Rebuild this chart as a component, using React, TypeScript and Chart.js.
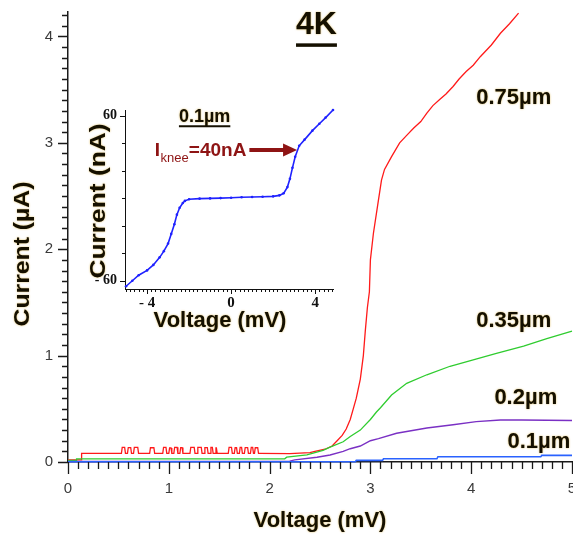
import React, { useEffect, useRef } from 'react';
import { Chart, registerables } from 'chart.js';

Chart.register(...registerables);

const W = 573;
const H = 537;
const SANS = "'Liberation Sans', Arial, sans-serif";
const SERIF = "'Liberation Serif', 'Times New Roman', serif";

// ---------- main chart data (Voltage mV, Current µA) ----------
const xTicksMain = [0, 1, 2, 3, 4, 5];
const yTicksMain = [0, 1, 2, 3, 4];

// 0.75 µm (red): low-bias part, switching noise, and the high-bias branch
const redLowV = [0, 0.13, 0.135, 0.53];
const redLowI = [0.02, 0.02, 0.082, 0.082];
const redSpikeStart = [0.53, 0.59, 0.65, 0.81, 0.94, 1.0, 1.05, 1.11, 1.21, 1.28, 1.35, 1.41, 1.46, 1.59, 1.65, 1.7, 1.75, 1.81, 1.85];
const redSpikeEnd = [0.57, 0.63, 0.7, 0.86, 0.98, 1.03, 1.09, 1.14, 1.26, 1.33, 1.39, 1.44, 1.48, 1.63, 1.68, 1.73, 1.79, 1.84, 1.89];
const redSpikeTop = [0.138, 0.136, 0.138, 0.134, 0.138, 0.132, 0.138, 0.136, 0.138, 0.138, 0.136, 0.138, 0.132, 0.138, 0.134, 0.138, 0.136, 0.138, 0.134];
const redBase = 0.082;
const redHighV = [1.9, 2.2, 2.4, 2.45, 2.55, 2.62, 2.67, 2.72, 2.76, 2.8, 2.83, 2.86, 2.9, 2.93, 2.95, 2.97, 2.99, 3.0, 3.03, 3.07, 3.11, 3.14, 3.21, 3.29, 3.36, 3.43, 3.5, 3.56, 3.62, 3.69, 3.75, 3.82, 3.88, 3.95, 4.02, 4.09, 4.2, 4.29, 4.38, 4.47];
const redHighI = [0.082, 0.078, 0.088, 0.1, 0.12, 0.15, 0.2, 0.25, 0.31, 0.4, 0.5, 0.6, 0.78, 1.0, 1.24, 1.45, 1.6, 1.9, 2.15, 2.4, 2.65, 2.75, 2.87, 3.0, 3.07, 3.14, 3.2, 3.28, 3.35, 3.41, 3.46, 3.53, 3.6, 3.67, 3.73, 3.81, 3.92, 4.03, 4.12, 4.22];

// 0.35 µm (green)
const greenV = [0, 0.08, 0.085, 2.15, 2.17, 2.37, 2.53, 2.6, 2.73, 2.8, 2.9, 2.93, 3.0, 3.06, 3.1, 3.21, 3.36, 3.56, 3.79, 4.02, 4.25, 4.52, 4.75, 5.0];
const greenI = [0.015, 0.015, 0.03, 0.03, 0.045, 0.066, 0.11, 0.14, 0.19, 0.24, 0.3, 0.33, 0.4, 0.47, 0.51, 0.63, 0.74, 0.82, 0.9, 0.96, 1.02, 1.09, 1.16, 1.23];

// 0.2 µm (purple)
const purpleV = [0, 2.2, 2.25, 2.47, 2.6, 2.73, 2.8, 2.9, 3.0, 3.08, 3.26, 3.56, 3.82, 4.05, 4.29, 4.5, 5.0];
const purpleI = [0.005, 0.008, 0.02, 0.045, 0.066, 0.1, 0.125, 0.15, 0.2, 0.22, 0.27, 0.32, 0.35, 0.38, 0.395, 0.395, 0.39];

// 0.1 µm (blue)
const blueV = [0, 2.85, 2.86, 3.12, 3.13, 3.66, 3.67, 4.69, 4.7, 5.0];
const blueI = [0.003, 0.003, 0.015, 0.015, 0.03, 0.03, 0.05, 0.05, 0.062, 0.062];

// curve labels [text, V at left edge, I at text middle]
const seriesLabels = ['0.75µm', '0.35µm', '0.2µm', '0.1µm'];
const seriesLabelV = [4.05, 4.05, 4.23, 4.36];
const seriesLabelI = [3.42, 1.33, 0.6, 0.19];

// ---------- inset data (Voltage mV, Current nA), 0.1 µm ----------
const insetV = [-5.0, -4.7, -4.4, -4.0, -3.7, -3.4, -3.2, -3.0, -2.85, -2.7, -2.58, -2.45, -2.3, -2.2, -2.0, -1.5, -1.0, -0.5, 0, 0.5, 1.0, 1.5, 2.0, 2.3, 2.5, 2.68, 2.8, 2.92, 3.05, 3.24, 3.5, 3.87, 4.2, 4.5, 4.85];
const insetI = [-64, -60, -56, -52.5, -48.5, -43, -38.5, -33, -26, -19, -12, -7, -3.5, -2, -0.8, -0.4, -0.2, 0, 0.3, 0.6, 0.8, 1.0, 1.3, 2, 3.5, 8, 14, 22, 30, 38, 42.5, 49, 54, 58.5, 64];
const insetXTicks = [-4, 0, 4];
const insetYTicks = [-60, 60];
const kneeCurrent = 40;

const toPts = (xs: number[], ys: number[]) => xs.map((x, i) => ({ x, y: ys[i] }));

function buildRed() {
  const pts = toPts(redLowV, redLowI);
  for (let i = 0; i < redSpikeStart.length; i++) {
    const s = redSpikeStart[i];
    const e = redSpikeEnd[i];
    pts.push({ x: s, y: redBase });
    pts.push({ x: s + 0.008, y: redSpikeTop[i] });
    pts.push({ x: e - 0.008, y: redSpikeTop[i] });
    pts.push({ x: e, y: redBase });
  }
  return pts.concat(toPts(redHighV, redHighI));
}

function haloText(ctx: CanvasRenderingContext2D) {
  ctx.shadowColor = 'rgba(205,150,0,0.65)';
  ctx.shadowBlur = 2;
}

// draw rotated text stretched along its length to a given extent
function verticalTitle(ctx: CanvasRenderingContext2D, text: string, cx: number, cy: number, size: number, length: number) {
  ctx.save();
  ctx.font = `bold ${size}px ${SANS}`;
  const w = ctx.measureText(text).width;
  ctx.translate(cx, cy);
  ctx.rotate(-Math.PI / 2);
  ctx.scale(length / w, 1);
  ctx.textAlign = 'center';
  ctx.textBaseline = 'middle';
  ctx.fillText(text, 0, 0);
  ctx.restore();
}

const mainDecor = {
  id: 'mainDecor',
  afterDraw(chart: any) {
    const ctx: CanvasRenderingContext2D = chart.ctx;
    const xs = chart.scales.x;
    const ys = chart.scales.y;
    const area = chart.chartArea;
    ctx.save();
    // ticks (major + minor)
    ctx.strokeStyle = '#1a1a1a';
    ctx.lineWidth = 1.3;
    ctx.beginPath();
    for (let k = 0; k <= 50; k++) {
      const v = k / 10;
      const px = Math.round(xs.getPixelForValue(v)) + 0.5;
      const len = k % 10 === 0 ? 12 : 7;
      ctx.moveTo(px, area.bottom);
      ctx.lineTo(px, area.bottom + len);
    }
    for (let k = 0; k <= 42; k++) {
      const v = k / 10;
      const py = Math.round(ys.getPixelForValue(v)) + 0.5;
      const len = k % 10 === 0 ? 10 : 6;
      ctx.moveTo(area.left, py);
      ctx.lineTo(area.left - len, py);
    }
    ctx.stroke();

    // axis titles
    ctx.fillStyle = '#151000';
    haloText(ctx);
    ctx.font = `bold 22px ${SANS}`;
    ctx.textAlign = 'center';
    ctx.textBaseline = 'alphabetic';
    ctx.fillText('Voltage (mV)', (area.left + area.right) / 2, 527);
    verticalTitle(ctx, 'Current (µA)', 23, 254, 22, 145);

    // title 4K
    ctx.font = `bold 32px ${SANS}`;
    ctx.textAlign = 'center';
    ctx.textBaseline = 'alphabetic';
    const tx = xs.getPixelForValue(2.465);
    const ty = ys.getPixelForValue(4.02);
    ctx.fillText('4K', tx, ty);
    const tw = ctx.measureText('4K').width;
    ctx.shadowBlur = 0;
    ctx.fillRect(tx - tw / 2, ty + 9, tw, 3.5);
    haloText(ctx);

    // series labels
    ctx.font = `bold 22px ${SANS}`;
    ctx.textAlign = 'left';
    ctx.textBaseline = 'middle';
    for (let i = 0; i < seriesLabels.length; i++) {
      ctx.fillText(seriesLabels[i], xs.getPixelForValue(seriesLabelV[i]), ys.getPixelForValue(seriesLabelI[i]));
    }
    ctx.restore();
  },
};

const insetDecor = {
  id: 'insetDecor',
  afterDraw(chart: any) {
    const ctx: CanvasRenderingContext2D = chart.ctx;
    const xs = chart.scales.x;
    const ys = chart.scales.y;
    const area = chart.chartArea;
    ctx.save();
    ctx.strokeStyle = '#111';
    ctx.lineWidth = 1;
    ctx.beginPath();
    for (let k = -25; k <= 24; k++) {
      const v = k / 5;
      const px = Math.round(xs.getPixelForValue(v)) + 0.5;
      const len = k % 20 === 0 ? 5 : 3;
      ctx.moveTo(px, area.bottom);
      ctx.lineTo(px, area.bottom + len);
    }
    for (let k = -60; k <= 60; k += 20) {
      const py = Math.round(ys.getPixelForValue(k)) + 0.5;
      ctx.moveTo(area.left, py);
      ctx.lineTo(area.left - (Math.abs(k) === 60 ? 5 : 3), py);
    }
    ctx.stroke();

    // axis titles
    ctx.fillStyle = '#151000';
    haloText(ctx);
    ctx.font = `bold 22px ${SANS}`;
    ctx.textAlign = 'center';
    ctx.textBaseline = 'alphabetic';
    ctx.fillText('Voltage (mV)', area.left + 95, area.bottom + 38);
    verticalTitle(ctx, 'Current (nA)', area.left - 26, 201, 22, 155);

    // 0.1µm underlined title
    ctx.font = `bold 18px ${SANS}`;
    ctx.textAlign = 'center';
    ctx.textBaseline = 'alphabetic';
    const hx = xs.getPixelForValue(-1.26);
    const hy = ys.getPixelForValue(55.1);
    ctx.fillText('0.1µm', hx, hy);
    const hw = ctx.measureText('0.1µm').width;
    ctx.shadowBlur = 0;
    ctx.fillRect(hx - hw / 2, hy + 3, hw, 2);

    // I_knee = 40nA
    const red = '#8e1414';
    ctx.fillStyle = red;
    ctx.textAlign = 'left';
    let x0 = xs.getPixelForValue(-3.63);
    const by = ys.getPixelForValue(30.9);
    ctx.font = `bold 19px ${SANS}`;
    ctx.fillText('I', x0, by);
    x0 += ctx.measureText('I').width + 0.5;
    ctx.font = `13px ${SANS}`;
    ctx.fillText('knee', x0, by + 6.5);
    x0 += ctx.measureText('knee').width;
    ctx.font = `bold 19px ${SANS}`;
    ctx.fillText(`=${kneeCurrent}nA`, x0, by);

    // arrow to the knee
    const ay = ys.getPixelForValue(35);
    const ax0 = xs.getPixelForValue(0.87);
    const ax1 = xs.getPixelForValue(3.14);
    ctx.strokeStyle = red;
    ctx.lineWidth = 4;
    ctx.beginPath();
    ctx.moveTo(ax0, ay);
    ctx.lineTo(ax1 - 12, ay);
    ctx.stroke();
    ctx.beginPath();
    ctx.moveTo(ax1 - 14, ay - 6.5);
    ctx.lineTo(ax1, ay);
    ctx.lineTo(ax1 - 14, ay + 6.5);
    ctx.closePath();
    ctx.fill();
    ctx.restore();
  },
};

export default function App() {
  const mainRef = useRef<HTMLCanvasElement>(null);
  const insetRef = useRef<HTMLCanvasElement>(null);

  useEffect(() => {
    const mainChart = new Chart(mainRef.current as HTMLCanvasElement, {
      type: 'line',
      data: {
        datasets: [
          { data: toPts(blueV, blueI), borderColor: '#2a62ff', borderWidth: 1.6 },
          { data: toPts(purpleV, purpleI), borderColor: '#7a30c4', borderWidth: 1.4 },
          { data: toPts(greenV, greenI), borderColor: '#2fcc2f', borderWidth: 1.3 },
          { data: buildRed(), borderColor: '#ff1a1a', borderWidth: 1.3 },
        ] as any,
      },
      options: {
        animation: false,
        responsive: false,
        maintainAspectRatio: false,
        layout: { padding: { top: 12, right: 1, left: 0, bottom: 0 } },
        elements: { point: { radius: 0 }, line: { tension: 0 } },
        plugins: { legend: { display: false }, tooltip: { enabled: false } },
        datasets: { line: { clip: 4 } } as any,
        scales: {
          x: {
            type: 'linear',
            min: xTicksMain[0],
            max: xTicksMain[xTicksMain.length - 1],
            grid: { display: false, drawTicks: true, tickLength: 12 },
            border: { display: true, color: '#1a1a1a', width: 1.5 },
            ticks: {
              stepSize: 1,
              padding: 6,
              color: '#3a3a3a',
              font: { family: SANS, size: 15 },
              maxRotation: 0,
              autoSkip: false,
              includeBounds: false,
              callback: (v: any) => (xTicksMain.includes(Number(v)) ? String(v) : ''),
            },
            afterFit: (s: any) => {
              s.height = 75;
              s.paddingLeft = 0;
              s.paddingRight = 0;
            },
          },
          y: {
            type: 'linear',
            min: 0,
            max: 4.23,
            grid: { display: false, drawTicks: true, tickLength: 10 },
            border: { display: true, color: '#1a1a1a', width: 1.5 },
            ticks: {
              stepSize: 1,
              padding: 5,
              color: '#3a3a3a',
              font: { family: SANS, size: 15 },
              autoSkip: false,
              includeBounds: false,
              callback: (v: any) => (yTicksMain.includes(Number(v)) ? String(v) : ''),
            },
            afterFit: (s: any) => {
              s.width = 68;
              s.paddingTop = 0;
              s.paddingBottom = 0;
            },
          },
        },
      } as any,
      plugins: [mainDecor],
    });

    const insetChart = new Chart(insetRef.current as HTMLCanvasElement, {
      type: 'line',
      data: {
        datasets: [
          {
            data: toPts(insetV, insetI),
            borderColor: '#1f22ff',
            backgroundColor: '#1f22ff',
            borderWidth: 1.6,
            pointRadius: 1.3,
            pointBorderWidth: 0,
          },
        ] as any,
      },
      options: {
        animation: false,
        responsive: false,
        maintainAspectRatio: false,
        layout: { padding: { top: 110, right: 240, left: 0, bottom: 0 } },
        elements: { line: { tension: 0 } },
        plugins: { legend: { display: false }, tooltip: { enabled: false } },
        datasets: { line: { clip: 4 } } as any,
        scales: {
          x: {
            type: 'linear',
            min: -5.05,
            max: 4.85,
            grid: { display: false, drawTicks: true, tickLength: 5 },
            border: { display: true, color: '#111', width: 1 },
            ticks: {
              stepSize: 4,
              padding: 0,
              color: '#111',
              font: { family: SERIF, size: 15, weight: 'bold' },
              maxRotation: 0,
              autoSkip: false,
              includeBounds: false,
              callback: (v: any) => {
                const n = Number(v);
                if (!insetXTicks.includes(n)) return '';
                return n < 0 ? `- ${Math.abs(n)}` : String(n);
              },
            },
            afterFit: (s: any) => {
              s.height = H - 289;
              s.paddingLeft = 0;
              s.paddingRight = 0;
            },
          },
          y: {
            type: 'linear',
            min: -66,
            max: 64,
            grid: { display: false, drawTicks: true, tickLength: 5 },
            border: { display: true, color: '#111', width: 1 },
            ticks: {
              stepSize: 60,
              padding: 3,
              color: '#111',
              font: { family: SERIF, size: 14, weight: 'bold' },
              autoSkip: false,
              includeBounds: false,
              callback: (v: any) => {
                const n = Number(v);
                if (!insetYTicks.includes(n)) return '';
                return n < 0 ? `- ${Math.abs(n)}` : String(n);
              },
            },
            afterFit: (s: any) => {
              s.width = 125;
              s.paddingTop = 0;
              s.paddingBottom = 0;
            },
          },
        },
      } as any,
      plugins: [insetDecor],
    });

    return () => {
      mainChart.destroy();
      insetChart.destroy();
    };
  }, []);

  return (
    <div style={{ position: 'fixed', left: 0, top: 0, width: W, height: H, background: '#fff' }}>
      <canvas ref={mainRef} width={W} height={H} style={{ position: 'absolute', left: 0, top: 0 }} />
      <canvas ref={insetRef} width={W} height={H} style={{ position: 'absolute', left: 0, top: 0, pointerEvents: 'none' }} />
    </div>
  );
}
